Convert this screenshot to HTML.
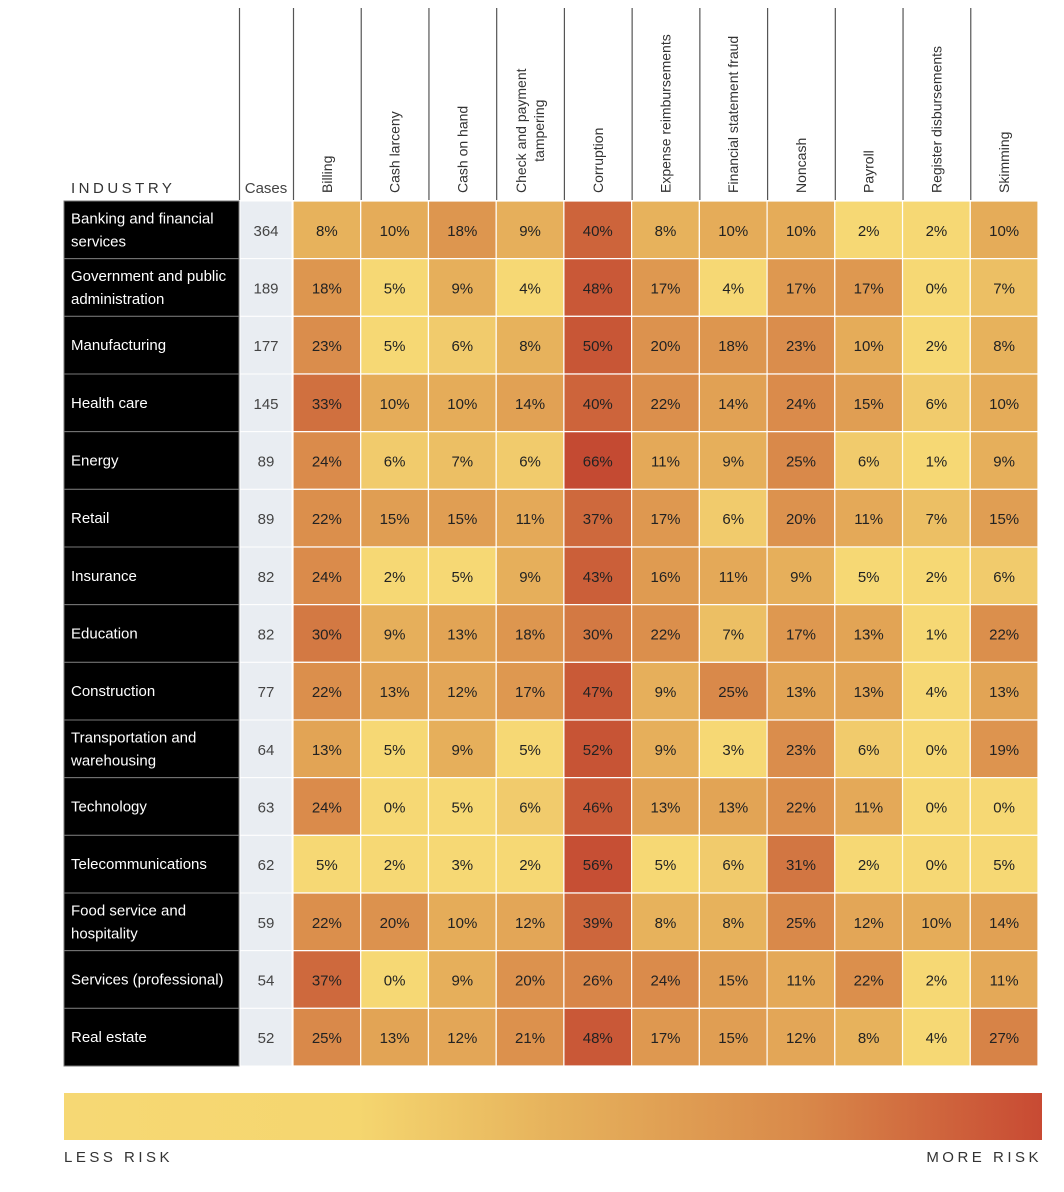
<!DOCTYPE html>
<html><head><meta charset="utf-8"><style>
html,body{margin:0;padding:0;background:#fff;width:1064px;height:1192px;overflow:hidden}
svg{display:block}
text{font-family:"Liberation Sans",sans-serif}
</style></head><body>
<svg id="chart" width="1064" height="1192" xmlns="http://www.w3.org/2000/svg">
<defs>
<linearGradient id="lg" x1="0" x2="1" y1="0" y2="0">
<stop offset="0" stop-color="#f6d874"/><stop offset="0.3" stop-color="#f5d66f"/><stop offset="0.5" stop-color="#e6b25c"/><stop offset="0.75" stop-color="#d98a4a"/><stop offset="1" stop-color="#c84a33"/>
</linearGradient>
</defs>
</svg>
<script>
const industries=["Banking and financial|services","Government and public|administration","Manufacturing","Health care","Energy","Retail","Insurance","Education","Construction","Transportation and|warehousing","Technology","Telecommunications","Food service and|hospitality","Services (professional)","Real estate"];
const cases=[364,189,177,145,89,89,82,82,77,64,63,62,59,54,52];
const schemes=["Billing","Cash larceny","Cash on hand","Check and payment|tampering","Corruption","Expense reimbursements","Financial statement fraud","Noncash","Payroll","Register disbursements","Skimming"];
const values=[
[8,10,18,9,40,8,10,10,2,2,10],
[18,5,9,4,48,17,4,17,17,0,7],
[23,5,6,8,50,20,18,23,10,2,8],
[33,10,10,14,40,22,14,24,15,6,10],
[24,6,7,6,66,11,9,25,6,1,9],
[22,15,15,11,37,17,6,20,11,7,15],
[24,2,5,9,43,16,11,9,5,2,6],
[30,9,13,18,30,22,7,17,13,1,22],
[22,13,12,17,47,9,25,13,13,4,13],
[13,5,9,5,52,9,3,23,6,0,19],
[24,0,5,6,46,13,13,22,11,0,0],
[5,2,3,2,56,5,6,31,2,0,5],
[22,20,10,12,39,8,8,25,12,10,14],
[37,0,9,20,26,24,15,11,22,2,11],
[25,13,12,21,48,17,15,12,8,4,27]];

const svg=document.getElementById('chart');
const NS="http://www.w3.org/2000/svg";
function mk(t,a,txt){const e=document.createElementNS(NS,t);for(const k in a)e.setAttribute(k,a[k]);if(txt!=null)e.textContent=txt;svg.appendChild(e);return e;}
const top0=201,bot=1066,rowH=(bot-top0)/industries.length;
const colX0=293,colW=(1038-colX0)/schemes.length;
const yRow=i=>top0+i*rowH;
const xCol=j=>colX0+j*colW;
const stops=[[0,[246,216,116]],[5,[246,216,116]],[8,[231,178,92]],[17,[222,152,80]],[25,[217,137,74]],[33,[208,112,63]],[45,[202,92,56]],[60,[196,74,50]]];
function color(v){
  for(let k=1;k<stops.length;k++){if(v<=stops[k][0]){const a=stops[k-1],b=stops[k];const f=(v-a[0])/(b[0]-a[0]);const c=a[1].map((x,i)=>Math.round(x+(b[1][i]-x)*f));return `rgb(${c})`;}}
  return 'rgb(196,74,50)';
}
let e;
e=mk('text',{x:71,y:193,'font-size':15,fill:'#333','letter-spacing':'3.5'},'INDUSTRY');


e=mk('text',{x:266,y:193,'font-size':15,fill:'#444','text-anchor':'middle'},'Cases');


e=mk('line',{x1:239.5,x2:239.5,y1:8,y2:200,stroke:'#555','stroke-width':1.2});


schemes.forEach((s,j)=>{
  const x=xCol(j);
  e=mk('line',{x1:x+0.5,x2:x+0.5,y1:8,y2:200,stroke:'#555','stroke-width':1.2});
  
  
  const lines=s.split('|');
  lines.forEach((l,k)=>{
    const cx=x+colW/2+(lines.length>1?(k-0.5)*18:0)+5;
    e=mk('text',{x:0,y:0,'font-size':14,fill:'#333',transform:`translate(${cx},193) rotate(-90)`,'text-anchor':lines.length>1&&k===1?'middle':'start'},l);
    
    
  });
});
(function(){const ts=[...svg.querySelectorAll('text[text-anchor="middle"][transform]')];ts.forEach(t=>{const first=t.previousSibling;const w=first.getComputedTextLength();const m=t.getAttribute('transform').match(/translate\(([\d.]+),/);t.setAttribute('transform',`translate(${m[1]},${193-w/2}) rotate(-90)`);});})();
industries.forEach((ind,i)=>{
  const y=yRow(i);
  e=mk('rect',{x:64,y:y,width:175,height:rowH,fill:'#000',stroke:'#777','stroke-width':1});
  
  
  const lines=ind.split('|');
  lines.forEach((l,k)=>{
    const ty=y+rowH/2+5+(lines.length>1?(k-0.5)*23:0);
    e=mk('text',{x:71,y:ty,'font-size':15,fill:'#fff'},l);
    
    
  });
  e=mk('rect',{x:240,y:y,width:52,height:rowH,fill:'#e9edf2',stroke:'#fff','stroke-width':1});
  
  
  e=mk('text',{x:266,y:y+rowH/2+6,'font-size':15,fill:'#444','text-anchor':'middle'},String(cases[i]));
  
  
  values[i].forEach((v,j)=>{
    const x=xCol(j);
    e=mk('rect',{x:x,y:y,width:colW,height:rowH,fill:color(v),stroke:'#fff','stroke-width':1.2});
    
    
    e=mk('text',{x:x+colW/2,y:y+rowH/2+6,'font-size':15,fill:'#222','text-anchor':'middle'},v+'%');
    
    
  });
});
e=mk('rect',{x:64,y:1093,width:978,height:47,fill:'url(#lg)'});


e=mk('text',{x:64,y:1162,'font-size':15,fill:'#333','letter-spacing':'3.5'},'LESS RISK');


e=mk('text',{x:1042,y:1162,'font-size':15,fill:'#333','letter-spacing':'3.5','text-anchor':'end'},'MORE RISK');


</script>
</body></html>
